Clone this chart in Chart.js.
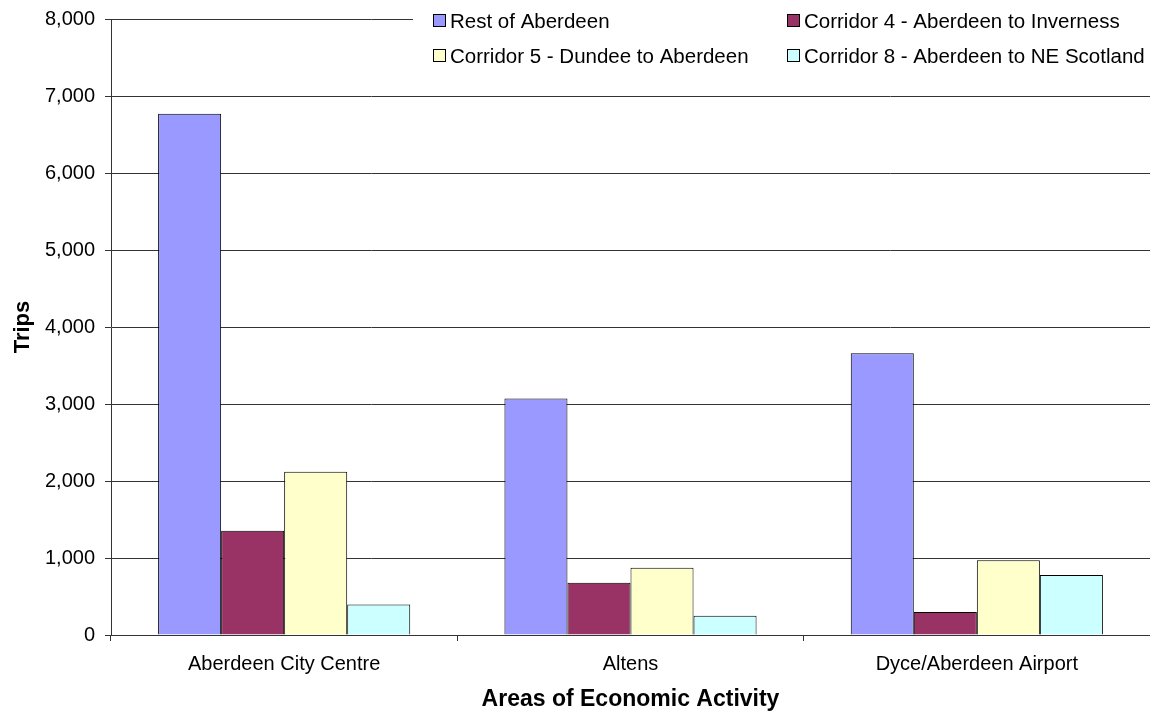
<!DOCTYPE html>
<html>
<head>
<meta charset="utf-8">
<script src="https://cdn.jsdelivr.net/npm/chart.js@4.4.1/dist/chart.umd.min.js"></script>
<style>
  html, body { margin: 0; padding: 0; background: #ffffff; }
  #wrap { width: 1150px; height: 713px; position: relative; }
</style>
</head>
<body>
<div id="wrap"><canvas id="c" width="1150" height="713"></canvas></div>
<script>
// Trips by area of economic activity and origin
const areas = ['Aberdeen City Centre', 'Altens', 'Dyce/Aberdeen Airport'];
const seriesNames = [
  'Rest of Aberdeen',
  'Corridor 4 - Aberdeen to Inverness',
  'Corridor 5 - Dundee to Aberdeen',
  'Corridor 8 - Aberdeen to NE Scotland'
];
const restOfAberdeen = [6770, 3070, 3660];
const corridor4 = [1355, 680, 300];
const corridor5 = [2120, 875, 970];
const corridor8 = [395, 250, 780];
const yTickValues = [0, 1000, 2000, 3000, 4000, 5000, 6000, 7000, 8000];

const seriesValues = [restOfAberdeen, corridor4, corridor5, corridor8];
const seriesColors = ['#9999FF', '#993366', '#FFFFCC', '#CCFFFF'];

const FONT = '"Liberation Sans", Arial, sans-serif';

// Two-column legend box drawn over the top-right of the plot
const boxLegend = {
  id: 'boxLegend',
  afterDraw(chart) {
    const ctx = chart.ctx;
    const cols = [433, 787];
    const rows = [21, 56];
    ctx.save();
    ctx.fillStyle = '#ffffff';
    ctx.fillRect(413, 0, 737, 74);
    ctx.font = '20.5px ' + FONT;
    ctx.textBaseline = 'middle';
    chart.data.datasets.forEach((ds, i) => {
      const x = cols[i % 2];
      const y = rows[Math.floor(i / 2)];
      ctx.fillStyle = ds.backgroundColor;
      ctx.fillRect(x + 0.5, y - 6.5, 12, 12);
      ctx.strokeStyle = '#000000';
      ctx.lineWidth = 1;
      ctx.strokeRect(x + 0.5, y - 6.5, 12, 12);
      ctx.fillStyle = '#000000';
      ctx.fillText(ds.label, x + 17, y + 1);
    });
    ctx.restore();
  }
};

new Chart(document.getElementById('c'), {
  type: 'bar',
  data: {
    labels: areas,
    datasets: seriesNames.map((name, i) => ({
      label: name,
      data: seriesValues[i],
      backgroundColor: seriesColors[i],
      borderColor: '#000000',
      borderWidth: 1,
      categoryPercentage: 0.728,
      barPercentage: 1.0
    }))
  },
  options: {
    responsive: false,
    animation: false,
    devicePixelRatio: 1,
    layout: { padding: { top: 19, right: 0, left: 0, bottom: 0 } },
    plugins: {
      legend: { display: false },
      tooltip: { enabled: false }
    },
    scales: {
      x: {
        grid: {
          offset: true,
          drawOnChartArea: false,
          drawTicks: true,
          tickLength: 6,
          color: '#333333'
        },
        border: { display: true, color: '#333333', width: 1 },
        ticks: {
          color: '#000000',
          font: { family: FONT, size: 20 },
          padding: 11,
          maxRotation: 0
        },
        title: {
          display: true,
          text: 'Areas of Economic Activity',
          color: '#000000',
          font: { family: FONT, size: 23, weight: 'bold' },
          padding: { top: 0, bottom: 0 }
        },
        afterFit(scale) {
          scale.height = 78;
          scale.paddingLeft = 0;
          scale.paddingRight = 0;
        }
      },
      y: {
        min: 0,
        max: 8000,
        afterBuildTicks(scale) {
          scale.ticks = yTickValues.map(v => ({ value: v }));
        },
        grid: {
          color: '#333333',
          lineWidth: 1,
          drawTicks: true,
          tickLength: 6
        },
        border: { display: true, color: '#333333', width: 1 },
        ticks: {
          color: '#000000',
          font: { family: FONT, size: 20 },
          padding: 10,
          callback: v => Number(v).toLocaleString('en-US')
        },
        title: {
          display: true,
          text: 'Trips',
          color: '#000000',
          font: { family: FONT, size: 22, weight: 'bold' },
          padding: { top: 10, bottom: 0 }
        },
        afterFit(scale) {
          scale.width = 111;
          scale.paddingTop = 0;
          scale.paddingBottom = 0;
        }
      }
    }
  },
  plugins: [boxLegend]
});
</script>
</body>
</html>
